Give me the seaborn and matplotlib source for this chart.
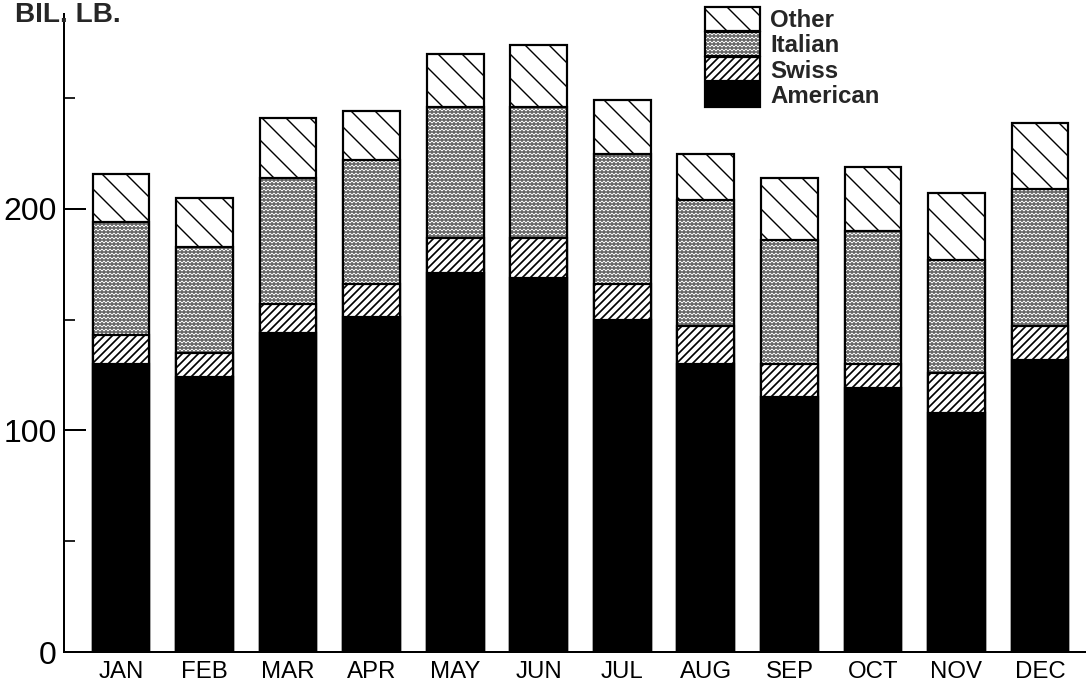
# Stacked monthly bars, drawn the seaborn way: cumulative totals painted from the top layer down
import pandas as pd
import seaborn as sns
import matplotlib.pyplot as plt
from matplotlib.ticker import MultipleLocator, FixedLocator

# data (billion lb)
months = ['JAN', 'FEB', 'MAR', 'APR', 'MAY', 'JUN', 'JUL', 'AUG', 'SEP', 'OCT', 'NOV', 'DEC']
american = [130, 124, 144, 151, 171, 169, 150, 130, 115, 119, 108, 132]
swiss = [13, 11, 13, 15, 16, 18, 16, 17, 15, 11, 18, 15]
italian = [51, 48, 57, 56, 59, 59, 59, 57, 56, 60, 51, 62]
other = [22, 22, 27, 22, 24, 28, 24, 21, 28, 29, 30, 30]

df = pd.DataFrame({'month': months, 'American': american, 'Swiss': swiss,
                   'Italian': italian, 'Other': other})
df['lvl_swiss'] = df['American'] + df['Swiss']
df['lvl_italian'] = df['lvl_swiss'] + df['Italian']
df['lvl_other'] = df['lvl_italian'] + df['Other']

sns.set_theme(style='ticks')
plt.rcParams['font.family'] = ['Liberation Sans', 'DejaVu Sans']
plt.rcParams['hatch.color'] = 'black'
plt.rcParams['hatch.linewidth'] = 1.6

DPI = 72
fig = plt.figure(figsize=(1086 / DPI, 691 / DPI), dpi=DPI)
ax = fig.add_axes([64 / 1086, 39 / 691, 1 - 64 / 1086, 638 / 691])

common = dict(x='month', order=months, width=0.68, saturation=1, errorbar=None,
              edgecolor='black', linewidth=2.2, ax=ax)

# top layer first, each lower layer paints over it
layers = [('lvl_other', 'white', '\\', 1.4),
          ('lvl_italian', 'white', '...', 2.4),
          ('lvl_swiss', 'white', '///', 1.7),
          ('American', 'black', None, 1.6)]
for col, colour, hatch, hlw in layers:
    with plt.rc_context({'hatch.linewidth': hlw}):
        sns.barplot(data=df, y=col, color=colour, hatch=hatch, **common)
        for bar in ax.containers[-1]:
            if hasattr(bar, 'set_hatch_linewidth'):
                bar.set_hatch_linewidth(hlw)

ax.set_xlim(-0.682, 11.55)
ax.set_ylim(0, 288)
ax.set_xlabel('')
ax.set_ylabel('')

ax.yaxis.set_major_locator(FixedLocator([0, 100, 200]))
ax.yaxis.set_minor_locator(MultipleLocator(50))
ax.tick_params(axis='y', which='major', direction='in', length=22, width=2, pad=7,
               labelsize=32, colors='black')
ax.tick_params(axis='y', which='minor', direction='in', length=11, width=2)
ax.tick_params(axis='x', length=0, pad=9, labelsize=24, colors='black')

sns.despine(ax=ax)
for side in ['left', 'bottom']:
    ax.spines[side].set_linewidth(2)
    ax.spines[side].set_color('black')

# legend: Other on top, American at the bottom
handles = list(ax.containers[:4])
labels = ['Other', 'Italian', 'Swiss', 'American']
leg = fig.legend(handles, labels, loc='upper left', bbox_to_anchor=(705 / 1086, 1 - 7 / 691),
                 frameon=False, borderpad=0, borderaxespad=0, labelspacing=0,
                 handlelength=2.3, handleheight=1.17, handletextpad=0.42,
                 prop={'size': 24, 'weight': 'bold'})
for h, (_, _, _, hlw) in zip(leg.legend_handles, layers):
    if hasattr(h, 'set_hatch_linewidth'):
        h.set_hatch_linewidth(hlw)

fig.text(15 / 1086, 1 - 22 / 691, 'BIL. LB.', fontsize=28, fontweight='bold',
         va='baseline', ha='left')

fig.savefig('out.png', dpi=DPI)
